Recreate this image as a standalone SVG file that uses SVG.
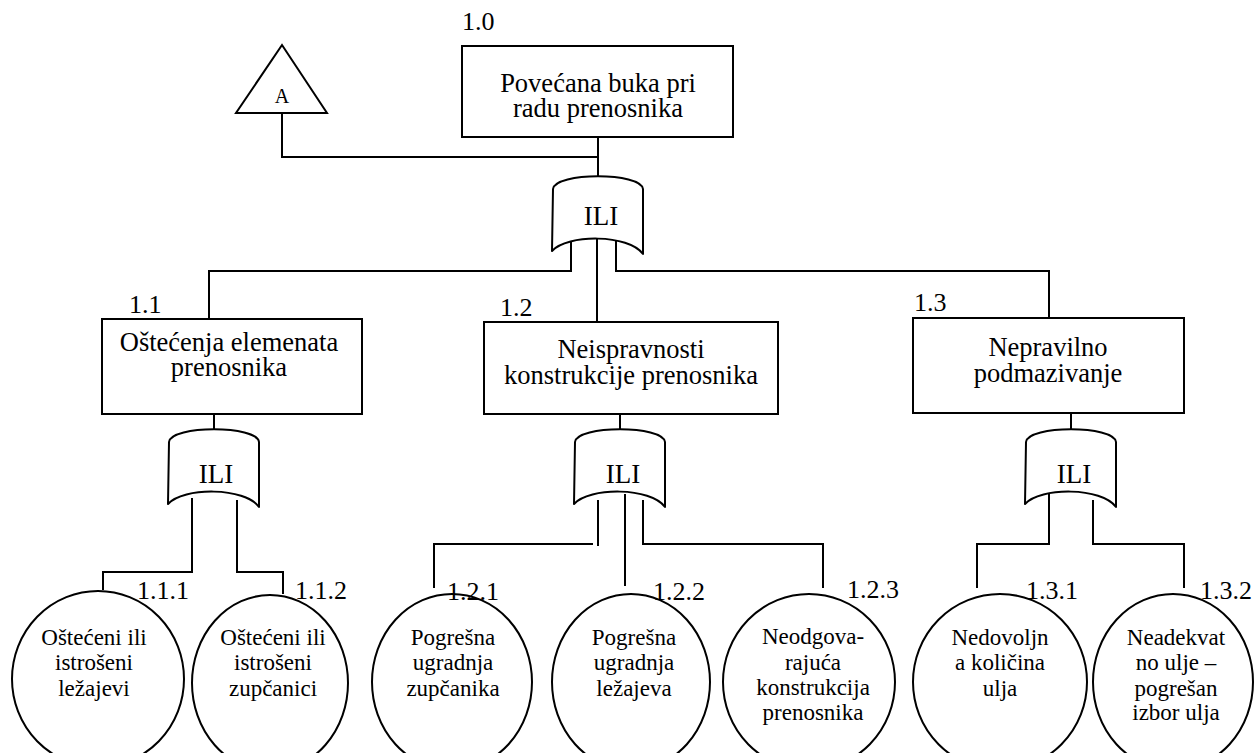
<svg xmlns="http://www.w3.org/2000/svg" width="1260" height="753" viewBox="0 0 1260 753">
<style>
text{font-family:"Liberation Serif","Times New Roman",serif;fill:#000;text-anchor:middle}
.box{fill:#fff;stroke:#000;stroke-width:2}
.circ{fill:#fff;stroke:#000;stroke-width:2}
.gate{fill:#fff;stroke:#000;stroke-width:2;stroke-linejoin:round}
.conn{fill:none;stroke:#000;stroke-width:2}
.bt{font-size:26.5px}
.ct{font-size:23px}
.lbl{font-size:26px;text-anchor:start}
.ili{font-size:27px}
</style>
<defs>
<path id="gateShape" d="M-45,13 C-43,-4 43,-4 45,13 L45,78 C31,58 -31,58 -46,75 Z"/>
</defs>
<rect width="1260" height="753" fill="#fff"/>
<g id="connectors" class="conn">
<path d="M282,113 V157 H598"/>
<path d="M598,137 V176"/>
<path d="M571,238 V271 H209 V320"/>
<path d="M597,237 V322"/>
<path d="M616,240 V271 H1049 V318"/>
<path d="M214,414 V429"/>
<path d="M192,498 V572 H103 V590"/>
<path d="M237,500 V572 H283 V594"/>
<path d="M620,414 V429"/>
<path d="M598,500 V546"/>
<path d="M593,544 H434 V588"/>
<path d="M625,494 V586"/>
<path d="M643,500 V544 H823 V588"/>
<path d="M1071,413 V429"/>
<path d="M1049,494 V544 H977 V588"/>
<path d="M1093,500 V544 H1184 V588"/>
</g>
<g id="transfer-A">
<polygon points="282,45 327,113 236,113" class="box"/>
<text x="282" y="103" style="font-size:20px">A</text>
</g>
<g id="node-1.0">
<text x="462" y="30" class="lbl">1.0</text>
<rect x="462" y="46" width="271" height="91" class="box"/>
<text x="598" y="92" class="bt">Povećana buka pri</text>
<text x="598" y="117" class="bt">radu prenosnika</text>
</g>
<g id="gate-1.0">
<use href="#gateShape" x="598" y="176" class="gate"/>
<text x="601" y="225" class="ili">ILI</text>
</g>
<g id="node-1.1">
<text x="129" y="313" class="lbl">1.1</text>
<rect x="102" y="319" width="260" height="95" class="box"/>
<text x="229" y="351" class="bt">Oštećenja elemenata</text>
<text x="229" y="376" class="bt">prenosnika</text>
</g>
<g id="node-1.2">
<text x="500" y="316" class="lbl">1.2</text>
<rect x="484" y="322" width="294" height="92" class="box"/>
<text x="631" y="358" class="bt">Neispravnosti</text>
<text x="631" y="384" class="bt">konstrukcije prenosnika</text>
</g>
<g id="node-1.3">
<text x="914" y="311" class="lbl">1.3</text>
<rect x="913" y="318" width="271" height="95" class="box"/>
<text x="1048" y="356" class="bt">Nepravilno</text>
<text x="1048" y="382" class="bt">podmazivanje</text>
</g>
<g id="gate-1.1">
<use href="#gateShape" x="214" y="429" class="gate"/>
<text x="216" y="483" class="ili">ILI</text>
</g>
<g id="gate-1.2">
<use href="#gateShape" x="620" y="429" class="gate"/>
<text x="623" y="483" class="ili">ILI</text>
</g>
<g id="gate-1.3">
<use href="#gateShape" x="1071" y="429" class="gate"/>
<text x="1074" y="483" class="ili">ILI</text>
</g>
<g id="node-1.1.1">
<ellipse cx="98" cy="679" rx="86" ry="88" class="circ"/>
<text x="137" y="599" class="lbl">1.1.1</text>
<text x="94" y="645" class="ct">Oštećeni ili</text>
<text x="94" y="670" class="ct">istrošeni</text>
<text x="94" y="696" class="ct">ležajevi</text>
</g>
<g id="node-1.1.2">
<ellipse cx="270" cy="683" rx="78" ry="88" class="circ"/>
<text x="295" y="599" class="lbl">1.1.2</text>
<text x="273" y="645" class="ct">Oštećeni ili</text>
<text x="273" y="670" class="ct">istrošeni</text>
<text x="273" y="696" class="ct">zupčanici</text>
</g>
<g id="node-1.2.1">
<ellipse cx="452" cy="682" rx="80" ry="88" class="circ"/>
<text x="447" y="600" class="lbl">1.2.1</text>
<text x="453" y="645" class="ct">Pogrešna</text>
<text x="453" y="670" class="ct">ugradnja</text>
<text x="453" y="696" class="ct">zupčanika</text>
</g>
<g id="node-1.2.2">
<ellipse cx="631" cy="682" rx="79" ry="88" class="circ"/>
<text x="653" y="600" class="lbl">1.2.2</text>
<text x="634" y="645" class="ct">Pogrešna</text>
<text x="634" y="670" class="ct">ugradnja</text>
<text x="634" y="696" class="ct">ležajeva</text>
</g>
<g id="node-1.2.3">
<ellipse cx="809" cy="682" rx="86" ry="88" class="circ"/>
<text x="847" y="598" class="lbl">1.2.3</text>
<text x="813" y="644" class="ct">Neodgova-</text>
<text x="813" y="670" class="ct">rajuća</text>
<text x="813" y="695" class="ct">konstrukcija</text>
<text x="813" y="720" class="ct">prenosnika</text>
</g>
<g id="node-1.3.1">
<ellipse cx="1000" cy="682" rx="87" ry="88" class="circ"/>
<text x="1026" y="599" class="lbl">1.3.1</text>
<text x="1000" y="645" class="ct">Nedovoljn</text>
<text x="1000" y="670" class="ct">a količina</text>
<text x="1000" y="696" class="ct">ulja</text>
</g>
<g id="node-1.3.2">
<ellipse cx="1173" cy="682" rx="80" ry="88" class="circ"/>
<text x="1200" y="599" class="lbl">1.3.2</text>
<text x="1176" y="645" class="ct">Neadekvat</text>
<text x="1176" y="670" class="ct">no ulje –</text>
<text x="1176" y="696" class="ct">pogrešan</text>
<text x="1176" y="720" class="ct">izbor ulja</text>
</g>
</svg>
